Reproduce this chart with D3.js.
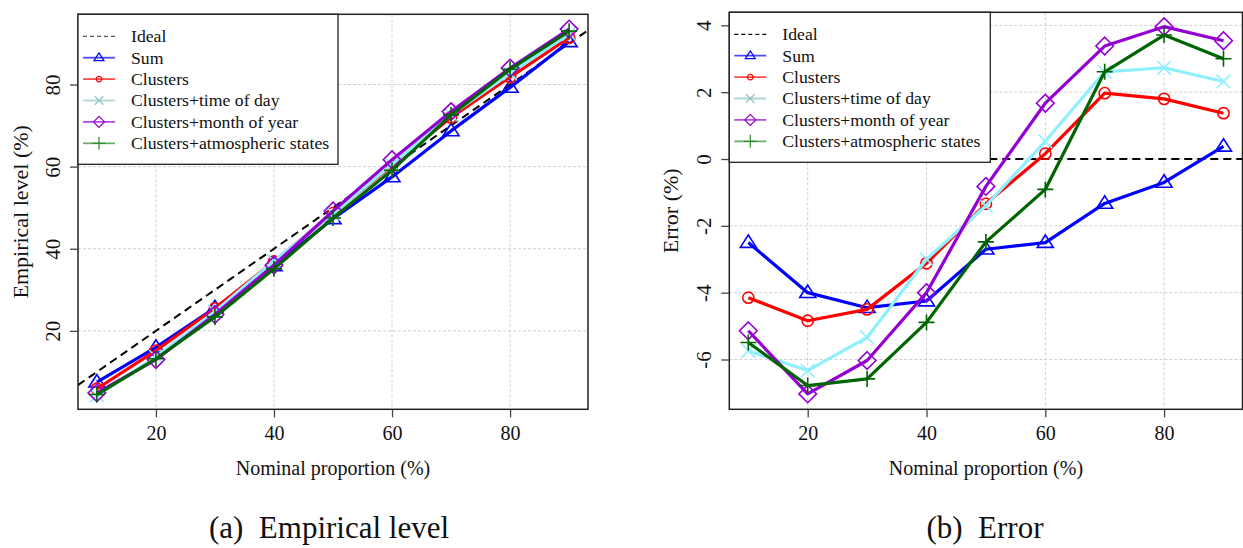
<!DOCTYPE html>
<html>
<head>
<meta charset="utf-8">
<script src="https://cdn.jsdelivr.net/npm/d3@7"></script>
<style>
  body { margin: 0; background: #fff; }
  svg text { font-family: "Liberation Serif", "Times New Roman", Times, "DejaVu Serif", serif; fill: #111; }
</style>
</head>
<body>
<div class="chart"></div>
<script>
    /*Data*/

    const nominal = [10, 20, 30, 40, 50, 60, 70, 80, 90];
    const xTicks = [20, 40, 60, 80];
    const levelTicks = [20, 40, 60, 80];
    const errorTicks = [-6, -4, -2, 0, 2, 4];

    const seriesNames = ["Sum", "Clusters", "Clusters+time of day", "Clusters+month of year", "Clusters+atmospheric states"];

    // panel (a): empirical level (%)
    const levelSum      = [7.5, 16.0, 25.6, 35.8, 47.3, 57.5, 68.7, 79.3, 90.4];
    const levelClusters = [5.9, 15.2, 25.5, 36.9, 48.7, 60.2, 72.0, 81.8, 91.4];
    const levelTime     = [4.3, 13.7, 24.7, 37.0, 48.6, 60.5, 72.6, 82.7, 92.3];
    const levelMonth    = [4.9, 13.0, 24.0, 36.0, 49.2, 61.7, 73.4, 84.0, 93.5];
    const levelAtmos    = [4.5, 13.2, 23.4, 35.1, 47.5, 59.1, 72.6, 83.7, 93.0];

    // panel (b): error (%)
    const errorSum      = [-2.5, -4.0, -4.45, -4.25, -2.7, -2.5, -1.33, -0.7, 0.38];
    const errorClusters = [-4.15, -4.84, -4.5, -3.12, -1.34, 0.16, 1.97, 1.8, 1.37];
    const errorTime     = [-5.74, -6.33, -5.34, -3.0, -1.4, 0.53, 2.61, 2.73, 2.32];
    const errorMonth    = [-5.14, -7.03, -6.03, -4.0, -0.82, 1.67, 3.38, 3.96, 3.54];
    const errorAtmos    = [-5.49, -6.78, -6.58, -4.89, -2.48, -0.91, 2.61, 3.71, 3.0];

    /*Styles*/
    const FONT = "'Liberation Serif', 'Times New Roman', Times, 'DejaVu Serif', serif";
    const colors = ["#0000ff", "#ff0000", "#8ef0ff", "#9400d3", "#006400"];
    const legendColors = ["#0000ff", "#ff0000", "#8fc4c4", "#9400d3", "#2e8b2e"];
    const shapes = ["triangle", "circle", "cross", "diamond", "plus"];

    const W = 1243, H = 548;
    const svg = d3.select(".chart").append("svg")
        .attr("width", W)
        .attr("height", H)
        .attr("font-family", FONT)
        .style("font-family", FONT);

    function shapePath(type, s) {
        const p = d3.path();
        if (type === "triangle") {
            p.moveTo(0, -s * 0.95); p.lineTo(s, s * 0.6); p.lineTo(-s, s * 0.6); p.closePath();
        } else if (type === "circle") {
            p.arc(0, 0, s * 0.7, 0, 2 * Math.PI);
        } else if (type === "cross") {
            p.moveTo(-s * 0.85, -s * 0.85); p.lineTo(s * 0.85, s * 0.85);
            p.moveTo(-s * 0.85, s * 0.85); p.lineTo(s * 0.85, -s * 0.85);
        } else if (type === "diamond") {
            p.moveTo(0, -s * 1.1); p.lineTo(s * 1.1, 0); p.lineTo(0, s * 1.1); p.lineTo(-s * 1.1, 0); p.closePath();
        } else {
            p.moveTo(-s, 0); p.lineTo(s, 0); p.moveTo(0, -s); p.lineTo(0, s);
        }
        return p.toString();
    }

    function drawPanel(cfg) {
        const xScale = d3.scaleLinear().domain([6.8, 93.2]).range([cfg.left, cfg.right]);
        const yScale = d3.scaleLinear().domain(cfg.yDomain).range([cfg.bottom, cfg.top]);
        const g = svg.append("g");

        /*grid*/
        g.selectAll(".gx").data(xTicks).enter().append("line")
            .attr("x1", d => xScale(d)).attr("x2", d => xScale(d))
            .attr("y1", cfg.top).attr("y2", cfg.bottom)
            .attr("stroke", "#d0d0d0").attr("stroke-dasharray", "3,2");
        g.selectAll(".gy").data(cfg.yTicks).enter().append("line")
            .attr("x1", cfg.left).attr("x2", cfg.right)
            .attr("y1", d => yScale(d)).attr("y2", d => yScale(d))
            .attr("stroke", "#d0d0d0").attr("stroke-dasharray", "3,2");

        /*ideal line*/
        const clip = "clip" + cfg.id;
        svg.append("clipPath").attr("id", clip).append("rect")
            .attr("x", cfg.left).attr("y", cfg.top)
            .attr("width", cfg.right - cfg.left).attr("height", cfg.bottom - cfg.top);
        g.append("line")
            .attr("clip-path", `url(#${clip})`)
            .attr("x1", xScale(6.8)).attr("x2", xScale(93.2))
            .attr("y1", yScale(cfg.ideal(6.8))).attr("y2", yScale(cfg.ideal(93.2)))
            .attr("stroke", "#000").attr("stroke-width", 2).attr("stroke-dasharray", "8,5");

        /*series*/
        const line = d3.line().x((d, i) => xScale(nominal[i])).y(d => yScale(d));
        cfg.series.forEach((vals, k) => {
            g.append("path").datum(vals)
                .attr("d", line)
                .attr("fill", "none")
                .attr("stroke", colors[k])
                .attr("stroke-width", 3.2)
                .attr("stroke-linejoin", "round");
            g.selectAll(".pt" + k).data(vals).enter().append("path")
                .attr("transform", (d, i) => `translate(${xScale(nominal[i])},${yScale(d)})`)
                .attr("d", shapePath(shapes[k], 8))
                .attr("fill", "none")
                .attr("stroke", colors[k])
                .attr("stroke-width", 1.6);
        });

        /*box*/
        g.append("rect")
            .attr("x", cfg.left).attr("y", cfg.top)
            .attr("width", cfg.right - cfg.left).attr("height", cfg.bottom - cfg.top)
            .attr("fill", "none").attr("stroke", "#222").attr("stroke-width", 1.5);

        /*axes*/
        const xAxis = d3.axisBottom(xScale).tickValues(xTicks).tickSize(8).tickPadding(9).tickFormat(d => String(d));
        const ax = g.append("g").attr("transform", `translate(0,${cfg.bottom})`).call(xAxis);
        ax.attr("font-family", FONT);
        ax.select(".domain").remove();
        ax.selectAll("line").attr("stroke", "#444").attr("stroke-width", 1.3);
        ax.selectAll("text").attr("font-size", 20).style("font-family", FONT).attr("fill", "#111");

        const yAxis = d3.axisLeft(yScale).tickValues(cfg.yTicks).tickSize(8).tickFormat(d => String(d));
        const ay = g.append("g").attr("transform", `translate(${cfg.left},0)`).call(yAxis);
        ay.attr("font-family", FONT);
        ay.select(".domain").remove();
        ay.selectAll("line").attr("stroke", "#444").attr("stroke-width", 1.3);
        ay.selectAll("text")
            .attr("font-size", 21).style("font-family", FONT).attr("fill", "#111")
            .attr("transform", "rotate(-90)")
            .attr("x", 0).attr("y", -18).attr("dy", 0)
            .attr("text-anchor", "middle");

        /*titles*/
        const cx = (cfg.left + cfg.right) / 2;
        g.append("text").attr("x", cx).attr("y", 475)
            .attr("text-anchor", "middle").attr("font-size", 20)
            .text("Nominal proportion (%)");
        g.append("text")
            .attr("transform", `translate(${cfg.yTitleX},${(cfg.top + cfg.bottom) / 2}) rotate(-90)`)
            .attr("text-anchor", "middle").attr("font-size", 22)
            .text(cfg.yTitle);
        g.append("text").attr("x", cfg.captionX).attr("y", 538)
            .attr("text-anchor", "middle").attr("font-size", 31)
            .style("white-space", "pre")
            .text(cfg.caption);

        /*legend*/
        const lg = g.append("g").attr("transform", `translate(${cfg.left},${cfg.top})`);
        lg.append("rect").attr("x", 0).attr("y", 0)
            .attr("width", cfg.legendW).attr("height", 150)
            .attr("fill", "#fff").attr("stroke", "#222").attr("stroke-width", 1.3);
        const rowY = i => 22 + i * 21.4;
        lg.append("line").attr("x1", 5).attr("x2", 37).attr("y1", rowY(0)).attr("y2", rowY(0))
            .attr("stroke", cfg.id === "a" ? "#555" : "#000").attr("stroke-width", 1.2)
            .attr("stroke-dasharray", "4,3");
        lg.append("text").attr("x", 53).attr("y", rowY(0) + 6).attr("font-size", 17.7).text("Ideal");
        seriesNames.forEach((name, k) => {
            const y = rowY(k + 1);
            lg.append("line").attr("x1", 5).attr("x2", 37).attr("y1", y).attr("y2", y)
                .attr("stroke", legendColors[k]).attr("stroke-width", 1.8).attr("stroke-opacity", 0.7);
            lg.append("path").attr("transform", `translate(21,${y})`)
                .attr("d", shapePath(shapes[k], shapes[k] === "plus" ? 6.5 : (shapes[k] === "circle" ? 4 : 5)))
                .attr("fill", "none").attr("stroke", legendColors[k]).attr("stroke-width", 1.2);
            lg.append("text").attr("x", 53).attr("y", y + 6).attr("font-size", 17.7).text(name);
        });
    }

    drawPanel({
        id: "a", left: 78, right: 588, top: 14.3, bottom: 409.3,
        yDomain: [0.9, 97.1], yTicks: levelTicks, ideal: x => x,
        series: [levelSum, levelClusters, levelTime, levelMonth, levelAtmos],
        yTitle: "Empirical level (%)", yTitleX: 28,
        caption: "(a)  Empirical level", captionX: 329, legendW: 260
    });

    drawPanel({
        id: "b", left: 729.3, right: 1242.5, top: 12.3, bottom: 409.3,
        yDomain: [-7.49, 4.39], yTicks: errorTicks, ideal: x => 0,
        series: [errorSum, errorClusters, errorTime, errorMonth, errorAtmos],
        yTitle: "Error (%)", yTitleX: 678,
        caption: "(b)  Error", captionX: 985, legendW: 261
    });
</script>
</body>
</html>
